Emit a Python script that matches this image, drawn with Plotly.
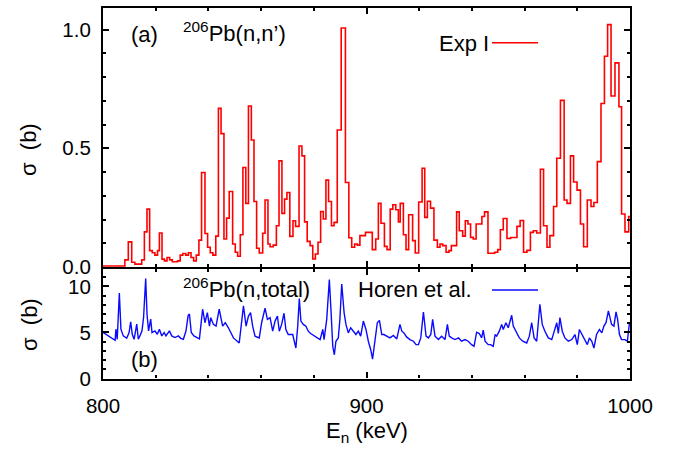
import plotly.graph_objects as go

W, H = 673, 450

# (n,n') histogram: lower edge of each energy bin (keV) and cross section (b)
nn_edge_kev = [
    800.0, 808.3, 809.6, 810.9, 812.1, 814.7, 815.7, 816.7, 817.7, 818.7,
    819.7, 820.7, 821.4, 822.4, 823.3, 824.3, 825.3, 826.3, 828.3, 829.3,
    830.3, 831.4, 832.4, 833.4, 834.4, 835.4, 836.4, 837.4, 838.7, 839.7,
    840.7, 841.7, 842.8, 843.8, 844.8, 845.9, 846.9, 847.9, 849.2, 850.2,
    851.1, 852.1, 853.1, 854.2, 855.2, 856.3, 857.3, 858.3, 859.3, 860.6,
    861.5, 862.6, 863.4, 864.6, 865.8, 866.8, 867.9, 868.9, 869.8, 870.9,
    872.1, 873.1, 874.4, 875.5, 876.5, 877.5, 878.6, 879.6, 880.6, 881.6,
    882.6, 883.6, 884.6, 885.6, 886.7, 887.7, 888.9, 890.4, 892.0, 893.3,
    894.4, 895.5, 896.5, 897.5, 899.6, 902.2, 903.5, 904.5, 905.5, 906.8,
    907.8, 909.0, 910.0, 911.1, 912.1, 912.8, 914.0, 915.0, 916.0, 917.5,
    918.5, 919.8, 921.1, 922.1, 923.1, 924.3, 925.6, 926.9, 927.9, 928.9,
    930.2, 931.3, 932.2, 934.2, 935.2, 936.5, 937.5, 938.5, 939.5, 940.5,
    941.6, 943.8, 944.8, 946.1, 948.6, 949.8, 950.8, 951.9, 953.3, 954.7,
    957.1, 958.3, 959.6, 960.9, 962.2, 963.3, 964.6, 966.0, 967.2, 968.5,
    969.6, 971.0, 972.2, 973.6, 975.0, 976.1, 977.4, 978.6, 979.9, 981.2,
    982.4, 983.8, 985.2, 986.3, 987.6, 989.0, 990.3, 991.5, 992.8, 994.3,
    995.8, 996.8, 998.1, 999.5,
]
nn_sigma_b = [
    0.004, 0.030, 0.106, 0.020, 0.012, 0.030, 0.148, 0.244, 0.069, 0.060,
    0.050, 0.069, 0.143, 0.033, 0.026, 0.040, 0.030, 0.022, 0.026, 0.050,
    0.057, 0.050, 0.060, 0.040, 0.026, 0.050, 0.113, 0.398, 0.141, 0.083,
    0.060, 0.050, 0.130, 0.668, 0.562, 0.118, 0.206, 0.318, 0.097, 0.062,
    0.045, 0.136, 0.419, 0.268, 0.678, 0.535, 0.276, 0.079, 0.059, 0.142,
    0.282, 0.097, 0.085, 0.092, 0.174, 0.447, 0.226, 0.286, 0.314, 0.129,
    0.195, 0.171, 0.510, 0.468, 0.190, 0.108, 0.090, 0.034, 0.055, 0.104,
    0.234, 0.202, 0.366, 0.276, 0.174, 0.188, 0.577, 1.007, 0.356, 0.123,
    0.083, 0.097, 0.092, 0.132, 0.146, 0.073, 0.118, 0.268, 0.184, 0.087,
    0.073, 0.244, 0.262, 0.241, 0.190, 0.268, 0.136, 0.073, 0.220, 0.111,
    0.059, 0.274, 0.416, 0.209, 0.277, 0.248, 0.113, 0.083, 0.097, 0.090,
    0.062, 0.069, 0.090, 0.232, 0.153, 0.130, 0.195, 0.181, 0.125, 0.118,
    0.181, 0.213, 0.232, 0.058, 0.062, 0.073, 0.157, 0.204, 0.120, 0.124,
    0.171, 0.196, 0.062, 0.070, 0.146, 0.153, 0.143, 0.412, 0.174, 0.083,
    0.132, 0.255, 0.458, 0.702, 0.282, 0.268, 0.468, 0.358, 0.324, 0.181,
    0.085, 0.282, 0.255, 0.272, 0.444, 0.689, 0.888, 1.021, 0.720, 0.860,
    0.675, 0.223, 0.148, 0.213,
]
nn_last_edge_kev = 1000.0

# total cross section (Horen et al.)
tot_energy_kev = [
    800.1, 802.0, 803.3, 804.6, 804.9, 805.4, 806.2, 806.8, 807.7, 809.0,
    809.9, 810.5, 811.1, 811.8, 812.8, 813.4, 814.0, 814.8, 815.4, 816.2,
    816.7, 817.3, 818.1, 818.6, 819.7, 820.6, 821.4, 822.3, 823.2, 823.9,
    825.2, 826.1, 827.3, 828.6, 829.5, 830.5, 831.5, 832.3, 832.8, 833.5,
    834.5, 835.5, 836.6, 837.8, 838.7, 839.6, 840.4, 840.9, 841.9, 842.9,
    844.1, 845.4, 846.4, 847.6, 849.5, 851.7, 852.6, 853.3, 854.3, 855.2,
    856.0, 856.8, 857.7, 859.3, 860.2, 861.5, 862.4, 863.4, 864.4, 865.3,
    866.2, 866.9, 867.8, 868.7, 869.4, 870.3, 872.0, 873.2, 873.9, 874.5,
    875.1, 876.0, 877.0, 877.9, 878.8, 880.5, 882.4, 883.4, 883.9, 884.9,
    885.9, 886.5, 887.2, 887.8, 888.4, 889.3, 889.9, 890.6, 891.5, 892.2,
    893.1, 894.0, 895.0, 896.0, 896.9, 897.8, 898.8, 899.8, 900.7, 901.6,
    902.3, 903.2, 904.1, 904.9, 905.8, 906.6, 907.7, 908.9, 910.2, 911.5,
    912.7, 913.4, 914.2, 915.2, 916.5, 917.8, 918.8, 919.7, 920.6, 921.6,
    922.6, 923.5, 924.4, 925.1, 926.0, 927.3, 928.5, 929.8, 930.7, 931.4,
    932.3, 933.6, 934.9, 936.1, 937.4, 938.6, 939.9, 940.8, 941.8, 942.8,
    943.7, 944.3, 945.0, 946.2, 947.1, 948.1, 948.8, 949.4, 950.4, 951.3,
    951.9, 952.9, 953.8, 955.1, 955.7, 956.7, 958.0, 959.3, 960.8, 961.8,
    962.7, 963.6, 964.6, 965.8, 966.7, 967.7, 969.0, 970.3, 971.5, 972.2,
    972.8, 973.4, 974.3, 975.3, 976.6, 977.9, 979.1, 980.0, 980.8, 981.7,
    982.9, 983.8, 984.6, 985.5, 986.3, 987.3, 988.4, 989.3, 990.1, 990.9,
    991.8, 992.4, 993.0, 993.9, 994.7, 995.3, 996.0, 996.8, 998.1, 999.0,
    999.8,
]
tot_sigma_b = [
    5.00, 4.63, 4.45, 4.15, 5.36, 4.26, 9.28, 5.36, 4.63, 4.37,
    5.00, 6.17, 4.81, 4.26, 5.91, 4.26, 4.63, 5.18, 6.65, 10.86,
    7.01, 5.18, 6.46, 5.00, 5.18, 4.81, 5.36, 4.63, 5.00, 4.63,
    5.18, 4.63, 4.45, 4.63, 4.37, 4.26, 5.18, 6.83, 7.01, 5.00,
    4.63, 4.45, 4.30, 7.53, 6.06, 7.16, 5.69, 6.61, 5.88, 5.69,
    7.53, 5.69, 6.06, 5.51, 4.41, 3.86, 6.06, 7.89, 5.69, 6.79,
    7.16, 5.69, 4.60, 4.41, 6.06, 7.64, 6.43, 6.61, 5.14, 6.24,
    6.79, 5.14, 5.88, 7.09, 5.33, 4.78, 4.78, 3.31, 5.69, 8.70,
    6.24, 5.88, 5.69, 5.14, 4.89, 4.60, 4.23, 5.33, 4.23, 6.43,
    10.75, 7.53, 3.50, 2.58, 4.05, 4.41, 6.43, 10.27, 7.16, 5.88,
    4.96, 5.51, 5.14, 4.78, 5.14, 4.60, 6.24, 5.33, 4.05, 3.13,
    2.10, 4.23, 6.06, 6.32, 4.78, 4.78, 4.60, 4.41, 4.67, 4.30,
    5.88, 5.14, 4.96, 4.52, 4.23, 4.05, 3.68, 3.68, 4.41, 7.23,
    4.60, 4.41, 4.78, 6.43, 4.60, 4.23, 4.60, 4.23, 5.88, 4.60,
    4.41, 4.23, 4.41, 4.05, 4.23, 4.05, 3.68, 3.50, 5.03, 4.89,
    4.41, 5.25, 4.05, 3.68, 3.68, 3.50, 4.78, 4.60, 5.14, 5.88,
    5.33, 6.06, 5.51, 6.87, 5.69, 5.14, 4.41, 4.05, 3.86, 4.60,
    6.06, 4.41, 4.05, 8.07, 5.88, 5.14, 4.41, 4.23, 5.33, 6.06,
    4.89, 6.61, 5.14, 4.41, 4.05, 4.23, 4.78, 3.68, 5.33, 4.78,
    4.23, 3.68, 4.41, 4.05, 3.31, 4.78, 5.33, 4.96, 5.69, 6.06,
    7.34, 6.61, 5.88, 5.69, 7.23, 6.43, 4.78, 4.23, 4.23, 4.05,
    6.06,
]

FONT = "Liberation Sans, Arial, Helvetica, sans-serif"


def fx(xpix):
    return xpix / W


def fy(ypix):
    return 1 - ypix / H


# panel boxes; the shared border is drawn by both panels, so their
# domains overlap by the line width to keep it a single stroke
x_dom = [fx(103), fx(630)]
top_dom = [fy(267), fy(8)]
bot_dom = [fy(378.5), fy(269)]

fig = go.Figure()

fig.add_trace(go.Scatter(
    x=nn_edge_kev + [nn_last_edge_kev],
    y=nn_sigma_b + [nn_sigma_b[-1]],
    mode="lines",
    line=dict(color="#ff0000", width=1.6, shape="hv"),
    xaxis="x", yaxis="y", showlegend=False,
))
fig.add_trace(go.Scatter(
    x=tot_energy_kev, y=tot_sigma_b,
    mode="lines",
    line=dict(color="#0a0aff", width=1.4),
    xaxis="x2", yaxis="y2", showlegend=False,
))

axis_common = dict(
    showline=True, linecolor="black", linewidth=2.2, mirror="allticks",
    ticks="inside", tickcolor="black", tickwidth=2, ticklen=6,
    showgrid=False, zeroline=False, automargin=False,
    tickfont=dict(family=FONT, size=20.5, color="black"),
)
minor_common = dict(ticks="inside", ticklen=3, tickwidth=1.5, tickcolor="black")

fig.update_layout(
    template="none",
    width=W, height=H,
    margin=dict(l=0, r=0, t=0, b=0),
    paper_bgcolor="white", plot_bgcolor="white",
    showlegend=False,
    xaxis=dict(axis_common, domain=x_dom, anchor="y", range=[800, 1000],
               tick0=800, dtick=100, showticklabels=False,
               minor=dict(minor_common, dtick=20)),
    yaxis=dict(axis_common, domain=top_dom, anchor="x", range=[0, 1.091],
               tick0=0, dtick=0.5, tickformat=".1f", ticklabelstandoff=6,
               minor=dict(minor_common, dtick=0.1)),
    xaxis2=dict(axis_common, domain=x_dom, anchor="y2", range=[800, 1000],
                tick0=800, dtick=100, ticklabelstandoff=8,
                minor=dict(minor_common, dtick=20)),
    yaxis2=dict(axis_common, domain=bot_dom, anchor="x2", range=[0, 11.9],
                tick0=0, dtick=5, ticklabelstandoff=6,
                minor=dict(minor_common, dtick=1)),
)

txt = dict(family=FONT, size=22, color="black")


def label(text, xpix, ypix, xanchor="left", angle=0):
    fig.add_annotation(text=text, x=fx(xpix), y=fy(ypix), xref="paper", yref="paper",
                       xanchor=xanchor, yanchor="middle", showarrow=False,
                       font=txt, textangle=angle)


label("(a)", 129, 34)
label("<sup>206</sup>Pb(n,n’)", 181, 32)
label("Exp I", 437, 43)
label("<sup>206</sup>Pb(n,total)", 181, 288)
label("Horen et al.", 356, 289)
label("(b)", 129, 359)
label("σ  (b)", 29, 150, xanchor="center", angle=-90)
label("σ  (b)", 29, 325, xanchor="center", angle=-90)
label("E<sub>n</sub> (keV)", 367, 432, xanchor="center")

# legend sample lines
fig.add_shape(type="line", xref="paper", yref="paper",
              x0=fx(492), x1=fx(538), y0=fy(42.7), y1=fy(42.7),
              line=dict(color="#ff0000", width=1.6))
fig.add_shape(type="line", xref="paper", yref="paper",
              x0=fx(492), x1=fx(538), y0=fy(290), y1=fy(290),
              line=dict(color="#0a0aff", width=1.4))

fig.write_html("out.html")
